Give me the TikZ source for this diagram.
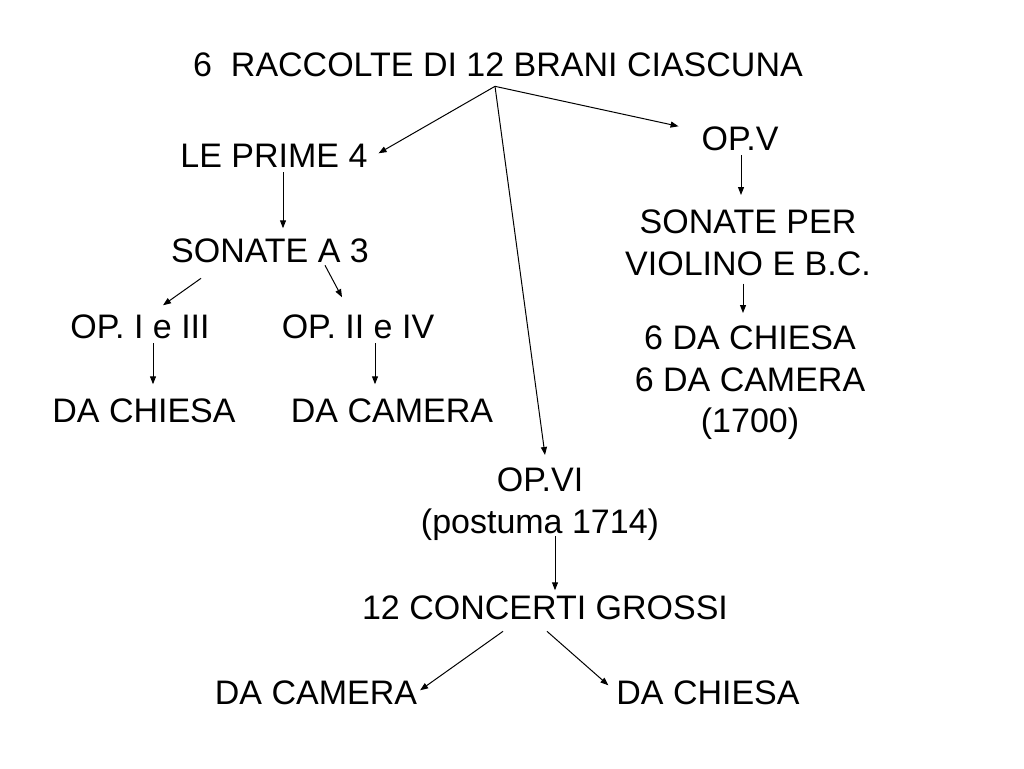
\documentclass[tikz,border=0pt]{standalone}
\usepackage{fontspec}
\setmainfont{Liberation Sans}
\usetikzlibrary{arrows.meta}
\begin{document}
\begin{tikzpicture}[x=1pt,y=-1pt,
  lbl/.style={inner sep=0pt, outer sep=0pt, font=\fontsize{34}{41.5}\selectfont},
  blk/.style={lbl, align=center, anchor=north},
  arr/.style={-{Triangle[length=8pt,width=6pt]}, line width=1pt}]
\useasboundingbox (0,0) rectangle (1024,768);
\fill[white] (0,0) rectangle (1024,768);

\node[lbl, anchor=base] (title) at (498,77) {6\ \ RACCOLTE DI 12 BRANI CIASCUNA};
\node[lbl, anchor=base] (prime) at (274,167) {LE PRIME 4};
\node[lbl, anchor=base] (son3) at (270,262) {SONATE A 3};
\node[lbl, anchor=base] (op13) at (140,338) {OP. I e III};
\node[lbl, anchor=base] (op24) at (358,338) {OP. II e IV};
\node[lbl, anchor=base] (chiesa1) at (144,422) {DA CHIESA};
\node[lbl, anchor=base] (camera1) at (392,422) {DA CAMERA};
\node[lbl, anchor=base] (opv) at (740,150) {OP.V};
\node[blk] (sonper) at (748,210) {SONATE PER\\VIOLINO E B.C.};
\node[blk] (sei) at (750,326) {6 DA CHIESA\\6 DA CAMERA\\(1700)};
\node[blk] (opvi) at (540,468) {OP.VI\\(postuma 1714)};
\node[lbl, anchor=base] (concerti) at (545,619) {12 CONCERTI GROSSI};
\node[lbl, anchor=base] (camera2) at (316,704) {DA CAMERA};
\node[lbl, anchor=base] (chiesa2) at (708,704) {DA CHIESA};

\draw[arr] ([xshift=-3pt,yshift=-9pt]title.south) -- ([xshift=11pt,yshift=2pt]prime.east);
\draw[arr] ([xshift=-3pt,yshift=-9pt]title.south) -- ([xshift=-23pt,yshift=12pt]opv.west);
\draw[arr] ([xshift=-3pt,yshift=-9pt]title.south) -- ([xshift=5pt,yshift=13pt]opvi.north);

\draw[arr] ([xshift=9pt,yshift=-5pt]prime.south) -- ([xshift=13pt,yshift=10pt]son3.north);
\draw[arr] ([xshift=-69pt,yshift=-16pt]son3.south) -- ([xshift=23pt,yshift=9pt]op13.north);
\draw[arr] ([xshift=55pt,yshift=-3pt]son3.south) -- ([xshift=-16pt,yshift=17pt]op24.north);
\draw[arr] ([xshift=13pt,yshift=-5pt]op13.south) -- ([xshift=9pt,yshift=14pt]chiesa1.north);
\draw[arr] ([xshift=17pt,yshift=-5pt]op24.south) -- ([xshift=-17pt,yshift=14pt]camera1.north);

\draw[arr] ([xshift=1pt,yshift=-5pt]opv.south) -- ([xshift=-7pt,yshift=15pt]sonper.north);
\draw[arr] ([xshift=-5pt,yshift=-8pt]sonper.south) -- ([xshift=-7pt,yshift=13pt]sei.north);

\draw[arr] ([xshift=15pt,yshift=4pt]opvi.south) -- ([xshift=10pt,yshift=5pt]concerti.north);
\draw[arr] ([xshift=-42pt,yshift=-12pt]concerti.south) -- ([xshift=3pt,yshift=2pt]camera2.east);
\draw[arr] ([xshift=2pt,yshift=-12pt]concerti.south) -- ([xshift=-8pt,yshift=7pt]chiesa2.west);
\end{tikzpicture}
\end{document}
